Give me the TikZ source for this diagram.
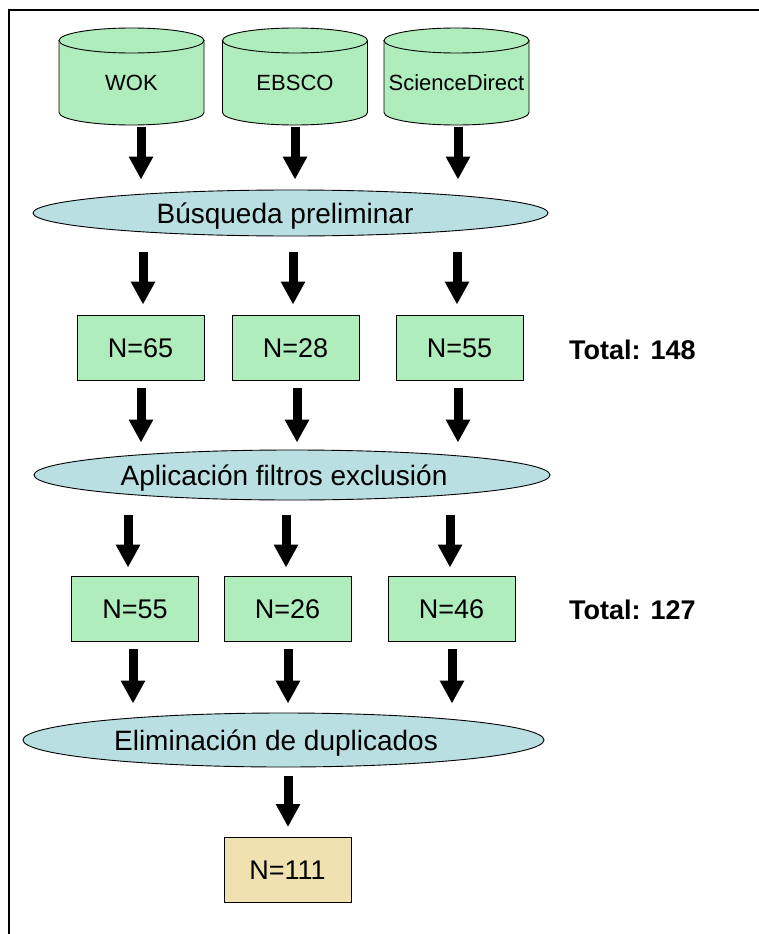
\documentclass[tikz,border=0pt]{standalone}
\usepackage{fontspec}
\setmainfont{Liberation Sans}
\usetikzlibrary{shapes.geometric,arrows.meta,calc}
\definecolor{boxgreen}{RGB}{176,237,189}
\definecolor{ellblue}{RGB}{186,223,226}
\definecolor{boxtan}{RGB}{240,226,176}
\tikzset{
  cyl/.style={rectangle, minimum height=99pt, minimum width=147pt, inner sep=0pt,
    font=\fontsize{22}{26}\selectfont, text height=28.8pt, text depth=0pt,
    path picture={
      \filldraw[fill=boxgreen, line width=0.9pt]
        ([xshift=1pt,yshift=-13.5pt]path picture bounding box.north west)
        -- ([xshift=1pt,yshift=13.5pt]path picture bounding box.south west)
        arc[start angle=180, end angle=360, x radius=72.5pt, y radius=12.5pt]
        -- ([xshift=-1pt,yshift=-13.5pt]path picture bounding box.north east) -- cycle;
      \filldraw[fill=boxgreen, line width=0.9pt]
        ([yshift=-13.5pt]path picture bounding box.north)
        ellipse[x radius=72.5pt, y radius=12.5pt];
    }},
  ell/.style={ellipse, draw=black, line width=0.9pt, fill=ellblue, inner sep=0pt,
    font=\fontsize{28}{32}\selectfont, text height=20pt, text depth=0pt},
  nbox/.style={rectangle, draw=black, line width=0.9pt, fill=boxgreen, inner sep=0pt,
    minimum width=127pt, minimum height=65pt,
    font=\fontsize{27}{31}\selectfont, text height=19.3pt, text depth=0pt},
  total/.style={anchor=west, inner sep=0pt, font=\fontsize{27}{31}\selectfont\bfseries,
    text height=19.3pt, text depth=0pt},
  barrow/.style={line width=9pt, -{Triangle[width=23pt,length=23pt]}}
}
\begin{document}
\begin{tikzpicture}[x=1pt,y=-1pt]
\useasboundingbox (0,0) rectangle (759,934);
\draw[line width=2pt] (9,934) -- (9,10) -- (759,10);
% databases
\node[cyl] (wok) at (131.5,76.5) {WOK};
\node[cyl] (ebsco) at (295,76.5) {EBSCO};
\node[cyl] (sd) at (456.5,76.5) {ScienceDirect};
% stage 1
\node[ell, minimum width=515pt, minimum height=46pt] (e1) at (290.5,213) {\hspace*{-11pt}Búsqueda preliminar};
\node[nbox] (b1) at (140.5,347.5) {N=65};
\node[nbox] (b2) at (295.5,347.5) {N=28};
\node[nbox] (b3) at (459.5,347.5) {N=55};
\node[total] (t1) at (569,350) {Total: 148};
% stage 2
\node[ell, minimum width=516pt, minimum height=50pt] (e2) at (292,475) {\hspace*{-16pt}Aplicación filtros exclusión};
\node[nbox] (c1) at (135,608.5) {N=55};
\node[nbox] (c2) at (287.5,608.5) {N=26};
\node[nbox] (c3) at (451.5,608.5) {N=46};
\node[total] (t2) at (569,610) {Total: 127};
% stage 3
\node[ell, minimum width=521pt, minimum height=54pt] (e3) at (283.5,740) {\hspace*{-15pt}Eliminación de duplicados};
\node[nbox, fill=boxtan] (f) at (287.5,870) {N=111};
% arrows row A
\draw[barrow, shorten <=1pt, shorten >=10pt] ($(wok.south)+(9.5,0)$) -- ($(e1.north -| wok.south)+(9.5,0)$);
\draw[barrow, shorten <=1pt, shorten >=10pt] (ebsco.south) -- (e1.north -| ebsco.south);
\draw[barrow, shorten <=1pt, shorten >=10pt] ($(sd.south)+(1.5,0)$) -- ($(e1.north -| sd.south)+(1.5,0)$);
% row B
\draw[barrow, shorten <=16pt, shorten >=10pt] ($(e1.south -| b1.north)+(2.5,0)$) -- ($(b1.north)+(2.5,0)$);
\draw[barrow, shorten <=16pt, shorten >=10pt] ($(e1.south -| b2.north)+(-2.5,0)$) -- ($(b2.north)+(-2.5,0)$);
\draw[barrow, shorten <=16pt, shorten >=10pt] ($(e1.south -| b3.north)+(-2.5,0)$) -- ($(b3.north)+(-2.5,0)$);
% row C
\draw[barrow, shorten <=8pt, shorten >=7pt] ($(b1.south)+(0.5,0)$) -- ($(e2.north -| b1.south)+(0.5,0)$);
\draw[barrow, shorten <=8pt, shorten >=7pt] ($(b2.south)+(1.5,0)$) -- ($(e2.north -| b2.south)+(1.5,0)$);
\draw[barrow, shorten <=8pt, shorten >=7pt] ($(b3.south)+(-1.5,0)$) -- ($(e2.north -| b3.south)+(-1.5,0)$);
% row D
\draw[barrow, shorten <=15pt, shorten >=8pt] ($(e2.south -| c1.north)+(-7,0)$) -- ($(c1.north)+(-7,0)$);
\draw[barrow, shorten <=15pt, shorten >=8pt] ($(e2.south -| c2.north)+(-1.5,0)$) -- ($(c2.north)+(-1.5,0)$);
\draw[barrow, shorten <=15pt, shorten >=8pt] ($(e2.south -| c3.north)+(-1.5,0)$) -- ($(c3.north)+(-1.5,0)$);
% row E
\draw[barrow, shorten <=8pt, shorten >=9pt] ($(c1.south)+(-2,0)$) -- ($(e3.north -| c1.south)+(-2,0)$);
\draw[barrow, shorten <=8pt, shorten >=9pt] ($(c2.south)+(0.5,0)$) -- ($(e3.north -| c2.south)+(0.5,0)$);
\draw[barrow, shorten <=8pt, shorten >=9pt] ($(c3.south)+(0.5,0)$) -- ($(e3.north -| c3.south)+(0.5,0)$);
% row F
\draw[barrow, shorten <=9pt, shorten >=10pt] ($(e3.south -| f.north)+(0.5,0)$) -- ($(f.north)+(0.5,0)$);
\end{tikzpicture}
\end{document}
